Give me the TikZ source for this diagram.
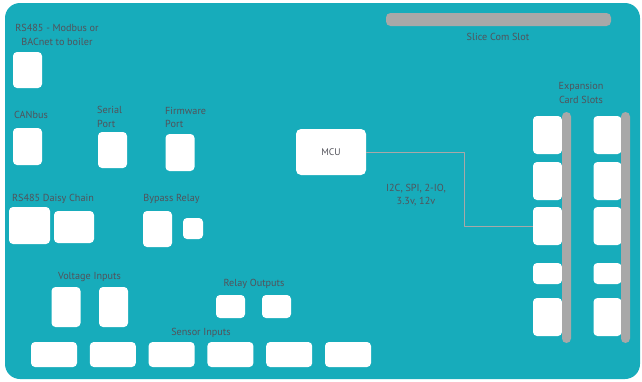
\documentclass[tikz,border=0pt]{standalone}
\usepackage{fontspec}
\setmainfont{PT Sans}
\usetikzlibrary{calc}

\definecolor{boardteal}{RGB}{23,172,187}
\definecolor{slotgray}{RGB}{168,168,168}
\definecolor{labelgray}{RGB}{82,82,90}

\begin{document}
\begin{tikzpicture}[x=1pt, y=-1pt, line join=round,
    font=\fontsize{10.2}{13.5}\selectfont,
    port/.style={fill=white, rounded corners=4pt, inner sep=0pt, minimum width=#1},
    port/.default=29,
    lbl/.style={text=labelgray, inner sep=0pt, align=center},
    slot/.style={fill=slotgray, rounded corners=4.5pt},
    link/.style={draw=slotgray, line width=0.9pt}]

  % canvas and board
  \useasboundingbox (0,0) rectangle (642,381);
  \fill[white] (0,0) rectangle (642,381);
  \fill[boardteal, rounded corners=15pt] (5,3) rectangle (640,379);

  % left column: comms ports
  \node[lbl] (rslbl) at (57,35) {RS485 - Modbus or\\BACnet to boiler};
  \node[port, minimum height=36] (rs) at (27.5,70) {};

  \node[lbl, anchor=west] (canlbl) at (14,115) {CANbus};
  \node[port, minimum height=37] (can) at (27.5,146.5) {};

  \node[lbl, anchor=west, align=left] (serlbl) at (97,117) {Serial\\Port};
  \node[port, minimum height=36] (ser) at (112.5,150) {};

  \node[lbl, anchor=west, align=left] (fwlbl) at (165,117.5) {Firmware\\Port};
  \node[port, minimum height=37] (fw) at (180,152.5) {};

  % daisy chain and bypass relay
  \node[lbl] (dclbl) at (53,199) {RS485 Daisy Chain};
  \node[port=41, minimum height=37] (dcA) at (29.5,225.5) {};
  \node[port=40, minimum height=32] (dcB) at (74,227) {};

  \node[lbl] (bplbl) at (171.5,199) {Bypass Relay};
  \node[port, minimum height=36] (bpA) at (157.5,229) {};
  \node[port=20, minimum height=21] (bpB) at (193,228.5) {};

  % voltage inputs, relay outputs
  \node[lbl] (vinlbl) at (89.5,277) {Voltage Inputs};
  \node[port, minimum height=40] (vinA) at (66,307) {};
  \node[port, minimum height=40] (vinB) at (113.5,307) {};

  \node[lbl] (rolbl) at (254,284) {Relay Outputs};
  \node[port, minimum height=23] (roA) at (230.5,306.5) {};
  \node[port, minimum height=23] (roB) at (276.5,306.5) {};

  % sensor inputs
  \node[lbl] (snlbl) at (201,333) {Sensor Inputs};
  \foreach \i in {0,...,5}
    \node[port=46, minimum height=25] (sn\i) at ({54+58.8*\i},354.5) {};

  % MCU
  \node[port=70, minimum height=46, rounded corners=5pt, font=\fontsize{9.6}{11}\selectfont, text=labelgray] (mcu) at (331,152) {MCU};

  % slice com slot
  \fill[slot] (386,13) rectangle (611,26);
  \node[lbl] (slicelbl) at (498,37) {Slice Com Slot};

  % expansion card slots (boxes first, bars on top)
  \node[lbl] (exlbl) at (581,93) {Expansion\\Card Slots};
  \foreach \i/\top/\bot in {1/116/154, 2/162/200, 3/207/245, 4/263/284, 5/298/336} {
    \node[port, minimum height={\bot-\top}] (exL\i) at (547.5,{(\top+\bot)/2}) {};
    \node[port=28, minimum height={\bot-\top}] (exR\i) at (607.5,{(\top+\bot)/2}) {};
  }
  \fill[slot] (562,112) rectangle (571,343);
  \fill[slot] (621,112) rectangle (630,343);

  % bus from MCU to slot 3
  \coordinate (bend) at (464,152);
  \draw[link] (mcu.east) -| (bend |- exL3.west) -- (exL3.west);
  \node[lbl] (buslbl) at (416,195) {I2C, SPI, 2-IO,\\3.3v, 12v};

\end{tikzpicture}
\end{document}
